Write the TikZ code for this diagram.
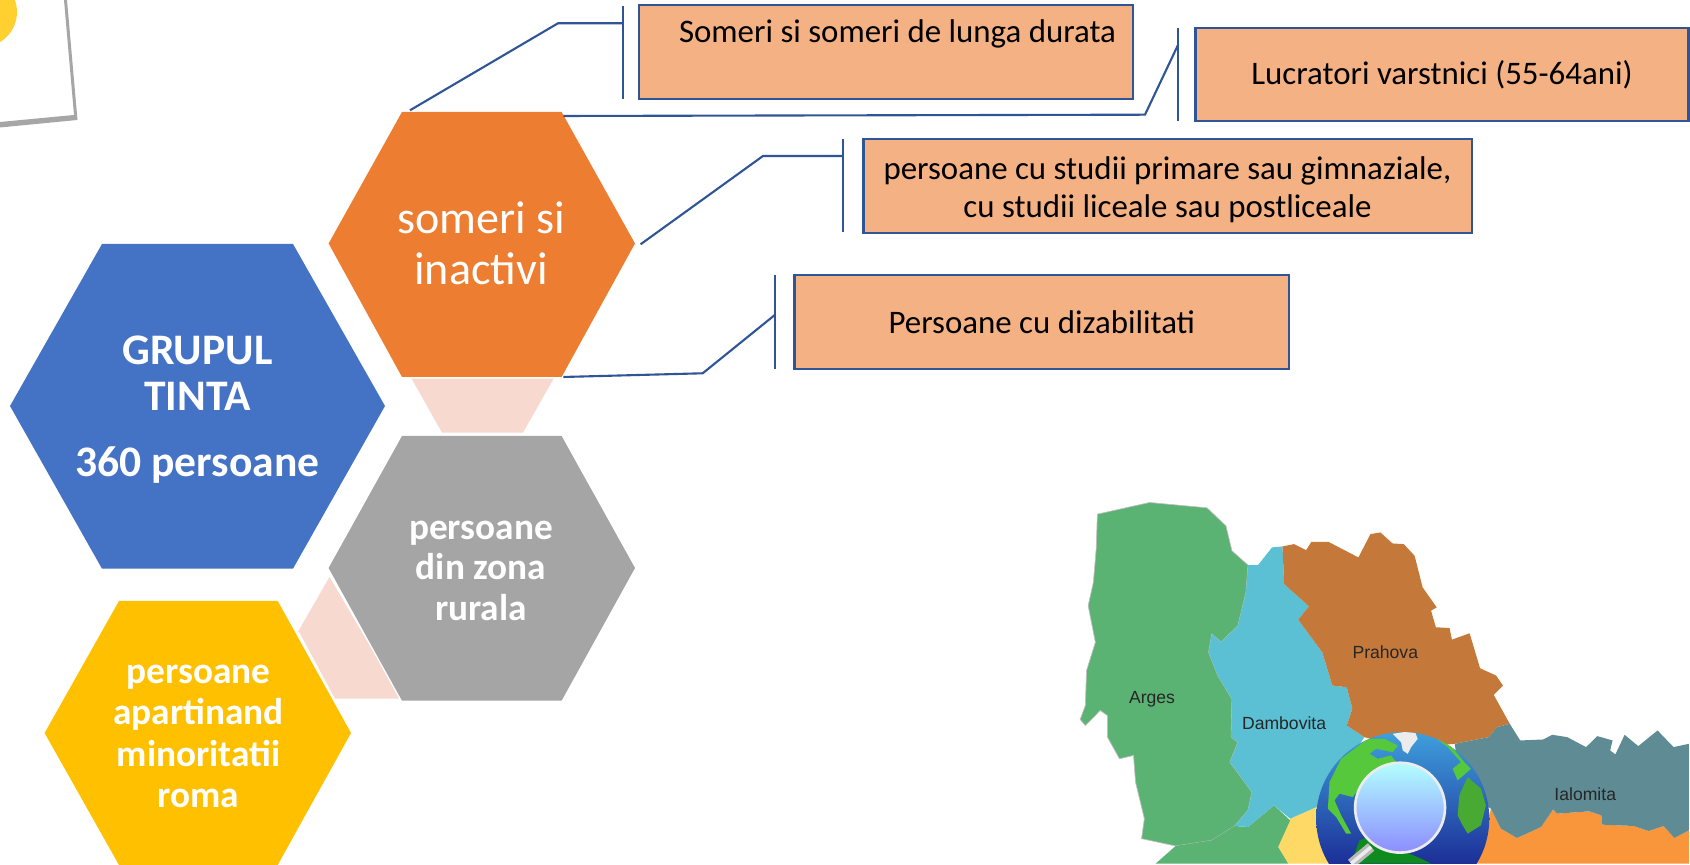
\documentclass[tikz,border=0pt]{standalone}
\usepackage{xcolor}
\usepackage{fontspec}
\setmainfont{Carlito}
\newfontfamily\mapfont{Liberation Sans}
\definecolor{boxfill}{HTML}{F4B183}
\definecolor{boxline}{HTML}{2F5597}
\definecolor{hexblue}{HTML}{4472C4}
\definecolor{hexorange}{HTML}{ED7D31}
\definecolor{hexgray}{HTML}{A5A5A5}
\definecolor{hexyellow}{HTML}{FFC000}
\definecolor{hexpink}{HTML}{F8D9D0}
\definecolor{mapgreen}{HTML}{5AB273}
\definecolor{mapblue}{HTML}{5BC0D3}
\definecolor{mapbrown}{HTML}{C4793B}
\definecolor{mapteal}{HTML}{5F8B94}
\definecolor{maporange}{HTML}{F9963B}
\definecolor{mapyellow}{HTML}{FFD966}
\definecolor{notedot}{HTML}{FFD030}
\definecolor{landgreen}{HTML}{55C83C}
\definecolor{landdark}{HTML}{0F8A1E}
\definecolor{oceantop}{HTML}{3F9FDC}
\definecolor{oceanlow}{HTML}{1C2F98}

\begin{document}
\begin{tikzpicture}[
    x=0.01cm, y=-0.01cm,
    box/.style={rectangle, draw=boxline, line width=0.75pt, fill=boxfill, inner sep=0pt, align=center, font=\fontsize{9.35}{10.8}\selectfont},
    boxtext/.style={inner sep=0pt, align=center, font=\fontsize{9.35}{10.8}\selectfont},
    hextext/.style={inner sep=0pt, text=white, align=center},
    bar/.style={draw=boxline, line width=0.55pt},
    link/.style={draw=boxline, line width=0.6pt},
    county/.style={draw=black!25, line width=0.2pt},
    maplabel/.style={font=\mapfont\fontsize{5}{6}\selectfont, text=black!85, inner sep=0pt}
]
    \useasboundingbox (0,0) rectangle (1690,865);

    % Note in the corner
    \begin{scope}
        \clip (0,0) rectangle (1690,865);
        \fill[gray!70] (64,0) -- (67,0) -- (77.5,120) -- (0,127.5) -- (0,122) -- (74,115) -- cycle;
        \fill[notedot] (-18,12) circle (35);
    \end{scope}

    % Connector backgrounds
    \fill[hexpink] (411.6,378.7) -- (553.6,378.7) -- (523,432.7) -- (442,432.7) -- cycle;
    \fill[hexpink] (329.5,577) -- (298,631.7) -- (334,698.7) -- (401,698.7) -- cycle;

    % Hexagons
    \fill[hexblue] (102,244) -- (293,244) -- (385,406) -- (293,568.7) -- (102,568.7) -- (10,406) -- cycle;
    \fill[hexorange] (402,112) -- (561.6,112) -- (635,243.5) -- (561.6,377) -- (402,377) -- (328.6,243.5) -- cycle;
    \draw[white, line width=0.8pt] (329,568) -- (402,701);
    \fill[hexgray] (402,436) -- (561.6,436) -- (635,568) -- (561.6,700.7) -- (402,700.7) -- (328.6,568) -- cycle;
    \draw[white, line width=0.5pt] (298,632) -- (334,699);
    \fill[hexyellow] (119,601) -- (277.7,601) -- (351,733) -- (277.7,865) -- (119,865) -- (44.6,733) -- cycle;

    \node[hextext, font=\fontsize{12.4}{13.1}\selectfont\bfseries] (tinta) at (197.5,409.5) {GRUPUL\\ TINTA\\[5.7pt] 360 persoane};
    \node[hextext, font=\fontsize{13.1}{14.5}\selectfont] (inactivi) at (481,243) {someri si\\ inactivi};
    \node[hextext, font=\fontsize{10.6}{11.5}\selectfont\bfseries] (rural) at (481,570.5) {persoane\\ din zona\\ rurala};
    \node[hextext, font=\fontsize{10.6}{11.7}\selectfont\bfseries] (roma) at (198.5,736.5) {persoane\\ apartinand\\ minoritatii\\ roma};

    % Boxes
    \node[box, minimum width=4.94cm, minimum height=0.94cm] (somer) at (886,52) {};
    \node[boxtext] (somertext) at (897.5,34) {Someri si someri de lunga durata};
    \node[box, minimum width=4.93cm, minimum height=0.93cm] (varstnic) at (1442,74.5) {Lucratori varstnici (55-64ani)};
    \node[box, minimum width=6.08cm, minimum height=0.94cm] (studii) at (1167.8,186) {};
    \node[boxtext] (studiitext) at (1167.5,189.5) {persoane cu studii primare sau gimnaziale,\\ cu studii liceale sau postliceale};
    \node[box, minimum width=4.94cm, minimum height=0.94cm] (dizab) at (1041.8,322) {Persoane cu dizabilitati};

    % Bars beside the boxes
    \coordinate (bar1a) at (622.7,6);      \coordinate (bar1b) at (622.7,99);
    \coordinate (bar2a) at (1178,28);      \coordinate (bar2b) at (1178,120.7);
    \coordinate (bar3a) at (843,139.3);    \coordinate (bar3b) at (843,232.3);
    \coordinate (bar4a) at (774.8,275.3);  \coordinate (bar4b) at (774.8,368.7);
    \draw[bar] (bar1a) -- (bar1b);
    \draw[bar] (bar2a) -- (bar2b);
    \draw[bar] (bar3a) -- (bar3b);
    \draw[bar] (bar4a) -- (bar4b);

    % Connectors
    \coordinate (start1) at (410,110.3);   \coordinate (end1) at (622.7,23.3);
    \coordinate (start2) at (563.4,116);   \coordinate (end2) at (1178,45);
    \coordinate (start3) at (640.6,244.3); \coordinate (end3) at (843,156);
    \coordinate (start4) at (563.4,377);   \coordinate (end4) at (774.8,315);
    \draw[link] (start1) -- (558,23.3) -- (end1);
    \draw[link] (start2) -- (1145,114.7) -- (end2);
    \draw[link] (start3) -- (763,156) -- (end3);
    \draw[link] (start4) -- (702.7,373.3) -- (end4);

    % Map
    \begin{scope}[x=0.004018cm, y=-0.003333cm, shift={(2638,1470)}]
        \clip (0,0) rectangle (1568,1125);
        \fill[maporange] (1075,960) -- (1100,1020) -- (1140,1048) -- (1200,1015) -- (1230,962) -- (1240,975) -- (1320,968) -- (1350,980) -- (1352,1008) -- (1430,1012) -- (1468,1027) -- (1505,1012) -- (1532,1048) -- (1568,1025) -- (1568,1125) -- (1040,1125) -- cycle;
        \fill[mapyellow] (575,990) -- (650,950) -- (700,1125) -- (570,1125) -- (545,1075) -- cycle;
        \fill[mapgreen, county] (95,75) -- (225,40) -- (368,56) -- (415,110) -- (430,185) -- (470,228) -- (465,310) -- (445,410) -- (403,460) -- (380,435) -- (372,490) -- (395,560) -- (430,630) -- (428,745) -- (445,760) -- (425,820) -- (480,910) -- (470,965) -- (437,1012) -- (380,1055) -- (290,1072) -- (205,1050) -- (212,990) -- (190,880) -- (185,800) -- (150,810) -- (120,745) -- (120,680) -- (102,665) -- (65,710) -- (52,692) -- (65,650) -- (68,545) -- (90,460) -- (72,350) -- (85,280) -- (92,180) -- cycle;
        \fill[mapgreen] (240,1125) -- (290,1072) -- (380,1055) -- (437,1012) -- (470,1015) -- (535,950) -- (575,995) -- (545,1075) -- (570,1125) -- cycle;
        \fill[mapblue] (470,228) -- (495,228) -- (530,175) -- (556,172) -- (560,285) -- (622,352) -- (595,392) -- (655,490) -- (680,590) -- (716,595) -- (730,660) -- (716,710) -- (760,745) -- (650,950) -- (575,990) -- (535,950) -- (470,1015) -- (437,1012) -- (470,965) -- (480,910) -- (425,820) -- (445,760) -- (428,745) -- (430,630) -- (395,560) -- (372,490) -- (380,435) -- (403,460) -- (445,410) -- (465,310) -- cycle;
        \fill[mapbrown] (556,172) -- (585,165) -- (615,183) -- (628,158) -- (670,158) -- (745,205) -- (775,135) -- (800,130) -- (830,163) -- (858,165) -- (885,200) -- (905,295) -- (940,355) -- (926,365) -- (938,415) -- (972,417) -- (978,452) -- (1022,433) -- (1048,538) -- (1088,560) -- (1105,590) -- (1082,618) -- (1122,705) -- (1090,715) -- (1070,745) -- (985,765) -- (860,780) -- (760,745) -- (716,710) -- (730,660) -- (716,595) -- (680,590) -- (655,490) -- (595,392) -- (622,352) -- (560,285) -- cycle;
        \fill[mapteal] (985,765) -- (1070,745) -- (1090,715) -- (1122,705) -- (1148,755) -- (1205,752) -- (1228,738) -- (1265,745) -- (1312,775) -- (1340,742) -- (1378,755) -- (1372,785) -- (1385,797) -- (1408,738) -- (1442,772) -- (1490,725) -- (1530,775) -- (1568,765) -- (1568,1025) -- (1532,1048) -- (1505,1012) -- (1468,1027) -- (1430,1012) -- (1352,1008) -- (1350,980) -- (1320,968) -- (1240,975) -- (1230,962) -- (1200,1015) -- (1140,1048) -- (1100,1020) -- (1075,960) -- (1000,900) -- cycle;
        \node[maplabel] (arges) at (231,631) {Arges};
        \node[maplabel] (dambovita) at (560,703) {Dambovita};
        \node[maplabel] (prahova) at (812,490) {Prahova};
        \node[maplabel] (ialomita) at (1310,918) {Ialomita};
    \end{scope}

    % Globe with lens
    \begin{scope}[x=0.003333cm, y=-0.003333cm, shift={(3930,2160)}]
        \clip (0,0) rectangle (570,435);
        \begin{scope}
            \clip (285,300) circle (260);
            \shade[top color=oceantop, bottom color=oceanlow] (25,40) rectangle (545,435);
            \fill[landgreen] (60,270) -- (65,190) -- (100,120) -- (180,60) -- (230,60) -- (270,80) -- (255,100) -- (205,90) -- (185,105) -- (210,120) -- (250,110) -- (265,130) -- (200,150) -- (160,200) -- (135,235) -- (95,225) -- (80,245) -- (100,290) -- (130,345) -- (115,345) -- (85,295) -- cycle;
            \fill[gray!15] (255,45) -- (320,35) -- (330,60) -- (310,85) -- (300,105) -- (285,95) -- (280,70) -- cycle;
            \fill[landgreen] (380,55) -- (420,70) -- (470,130) -- (490,150) -- (450,185) -- (435,150) -- (460,130) -- (420,85) -- cycle;
            \fill[landgreen!85!black] (480,175) -- (520,210) -- (535,260) -- (520,320) -- (480,345) -- (465,320) -- (450,290) -- (455,230) -- cycle;
            \fill[landdark] (130,435) -- (155,365) -- (195,350) -- (215,375) -- (280,395) -- (340,420) -- (370,435) -- cycle;
        \end{scope}
        \draw[gray!55, line width=2.8pt] (190,385) -- (130,435);
        \draw[gray!15, line width=1pt] (190,385) -- (130,435);
        \shade[draw=gray!15, line width=0.75pt, top color=cyan!30, bottom color=blue!45!white] (277,267) circle (135);
    \end{scope}
\end{tikzpicture}
\end{document}
